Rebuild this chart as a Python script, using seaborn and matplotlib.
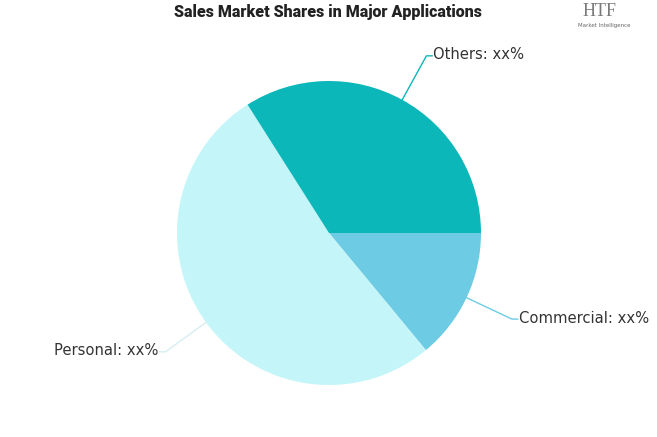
import numpy as np
import matplotlib
matplotlib.use("Agg")
import matplotlib.pyplot as plt
import seaborn as sns

# data
categories = ["Commercial", "Personal", "Others"]
shares = [14, 52, 34]
labels = ["Commercial: xx%", "Personal: xx%", "Others: xx%"]
colors = ["#6dcbe3", "#c4f5f8", "#0cb7ba"]

sns.set_theme(style="white")
plt.rcParams['font.family'] = ['DejaVu Sans']

fig = plt.figure(figsize=(6.57, 4.37), dpi=100)
ax = fig.add_axes([0, 0, 1, 1])

cx, cy, r = 329, 437 - 233, 152
wedges, _ = ax.pie(shares, colors=colors, startangle=0, counterclock=False,
                   center=(cx, cy), radius=r, frame=True,
                   wedgeprops=dict(linewidth=0))

for w, lab, col in zip(wedges, labels, colors):
    mid = np.deg2rad((w.theta1 + w.theta2) / 2)
    x0, y0 = cx + r * np.cos(mid), cy + r * np.sin(mid)
    x1, y1 = cx + 1.33 * r * np.cos(mid), cy + 1.33 * r * np.sin(mid)
    side = 1 if np.cos(mid) >= 0 else -1
    x2 = x1 + side * 6
    lc = col if col != "#c4f5f8" else "#d6eef0"
    ax.plot([x0, x1, x2], [y0, y1, y1], color=lc, lw=1)
    ax.text(x2 + side * 1, y1 + 1, lab, ha="left" if side > 0 else "right",
            va="center", fontsize=10.6, color="#333333")

ax.set_xlim(0, 657)
ax.set_ylim(0, 437)
ax.set_aspect("equal")
ax.axis("off")

fig.text(328 / 657, 1 - 12 / 437, "Sales Market Shares in Major Applications",
         ha="center", va="center", fontsize=11.5, fontweight="black",
         family=["Roboto", "DejaVu Sans"], color="#222222")

# logo text
fig.text(600 / 657, 1 - 11 / 437, "HTF", ha="center", va="center",
         fontsize=13, color="#7a7a7a", family=["Liberation Serif", "DejaVu Serif"])
fig.text(604 / 657, 1 - 26 / 437, "Market Intelligence", ha="center", va="center",
         fontsize=4, color="#666666")

fig.savefig("out.png", dpi=100)
